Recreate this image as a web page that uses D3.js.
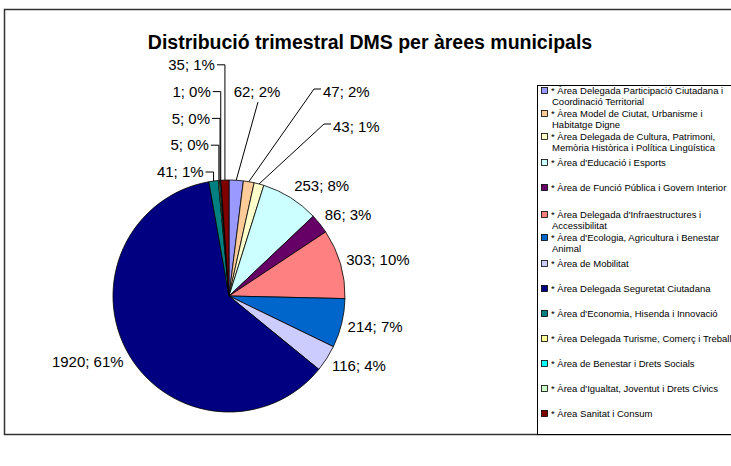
<!DOCTYPE html>
<html>
<head>
<meta charset="utf-8">
<script src="https://cdn.jsdelivr.net/npm/d3@7"></script>
<style>
  body { margin: 0; background: #fff; }
  text { font-family: "Liberation Sans", Arial, sans-serif; }
</style>
</head>
<body>
<div id="chart"></div>
<script>
// categories (legend lines as shown in the original)
var categories = [
    ["* Àrea Delegada Participació Ciutadana i", "Coordinació Territorial"],
    ["* Àrea Model de Ciutat, Urbanisme i", "Habitatge Digne"],
    ["* Àrea Delegada de Cultura, Patrimoni,", "Memòria Històrica i Política Lingüística"],
    ["* Àrea d'Educació i Esports"],
    ["* Àrea de Funció Pública i Govern Interior"],
    ["* Àrea Delegada d'Infraestructures i", "Accessibilitat"],
    ["* Àrea d'Ecologia, Agricultura i Benestar", "Animal"],
    ["* Àrea de Mobilitat"],
    ["* Àrea Delegada Seguretat Ciutadana"],
    ["* Àrea d'Economia, Hisenda i Innovació"],
    ["* Àrea Delegada Turisme, Comerç i Treball"],
    ["* Àrea de Benestar i Drets Socials"],
    ["* Àrea d'Igualtat, Joventut i Drets Cívics"],
    ["* Àrea Sanitat i Consum"]
];
var values = [62, 47, 43, 253, 86, 303, 214, 116, 1920, 41, 5, 5, 1, 35];
var colors = ["#9999FF", "#FFCC99", "#FFFFCC", "#CCFFFF", "#660066", "#FF8080", "#0066CC",
              "#CCCCFF", "#000080", "#008080", "#FFFF99", "#00FFFF", "#CCFFCC", "#800000"];
var title = "Distribució trimestral DMS per àrees municipals";

var width = 731, height = 466;
var cx = 229, cy = 296, radius = 116;

var svg = d3.select("#chart").append("svg")
    .attr("width", width)
    .attr("height", height);

// chart frame
svg.append("rect")
    .attr("x", 4.5).attr("y", 9.5)
    .attr("width", width + 10).attr("height", 425)
    .attr("fill", "none")
    .attr("stroke", "#333")
    .attr("stroke-width", 1.5);

svg.append("text")
    .attr("x", 370).attr("y", 49)
    .attr("text-anchor", "middle")
    .attr("font-size", 19.5)
    .attr("font-weight", "bold")
    .text(title);

var total = d3.sum(values);
var pie = d3.pie().sort(null).value(function(d) { return d; });
var arcs = pie(values);
var arc = d3.arc().innerRadius(0).outerRadius(radius);

var g = svg.append("g").attr("transform", "translate(" + cx + "," + cy + ")");

g.selectAll("path")
    .data(arcs)
    .enter()
    .append("path")
    .attr("d", arc)
    .attr("fill", function(d, i) { return colors[i]; })
    .attr("stroke", "#000")
    .attr("stroke-width", 0.8);

function labelText(v) {
    return v + "; " + Math.round(v / total * 100) + "%";
}

// point on the rim in the middle of the slice
function rimPoint(d, r) {
    var a = (d.startAngle + d.endAngle) / 2;
    return [Math.sin(a) * r, -Math.cos(a) * r];
}

// small slices at the top get leader lines
var leftLeader = [9, 10, 11, 12, 13];   // stacked upwards from Economia to Sanitat
var rightLeader = {
    0: { x: 28, y: -204, anchor: "middle", stub: 0 },
    1: { x: 94, y: -204, anchor: "start", stub: 7 },
    2: { x: 104, y: -169, anchor: "start", stub: 7 }
};

var labels = g.append("g").attr("font-size", 15).attr("fill", "#000");
var leaders = g.append("g").attr("fill", "none").attr("stroke", "#000").attr("stroke-width", 1);

arcs.forEach(function(d, i) {
    var txt = labelText(values[i]);
    var li = leftLeader.indexOf(i);
    if (li >= 0) {
        var p = rimPoint(d, radius);
        var ly = -radius - 8 - li * 26.8;
        labels.append("text")
            .attr("x", p[0] - 10).attr("y", ly)
            .attr("dy", "0.35em")
            .attr("text-anchor", "end")
            .text(txt);
        leaders.append("polyline")
            .attr("points", [[p[0] - 8, ly], [p[0], ly], [p[0], p[1]]].join(" "));
    } else if (rightLeader[i]) {
        var o = rightLeader[i];
        var q = rimPoint(d, radius);
        labels.append("text")
            .attr("x", o.x).attr("y", o.y)
            .attr("dy", "0.35em")
            .attr("text-anchor", o.anchor)
            .text(txt);
        if (o.anchor === "middle") {
            leaders.append("polyline")
                .attr("points", [[o.x + 1, o.y + 10], [q[0], q[1]]].join(" "));
        } else {
            leaders.append("polyline")
                .attr("points", [[o.x - 2, o.y - 3], [o.x - 2 - o.stub, o.y - 3], [q[0], q[1]]].join(" "));
        }
    } else {
        var a = (d.startAngle + d.endAngle) / 2;
        var pt = rimPoint(d, radius + 5);
        labels.append("text")
            .attr("x", pt[0] + (Math.sin(a) >= 0 ? 1 : -1))
            .attr("y", pt[1] - Math.cos(a) * 9)
            .attr("dy", "0.35em")
            .attr("text-anchor", Math.sin(a) >= 0 ? "start" : "end")
            .text(txt);
    }
});

// legend
var legend = svg.append("g");
legend.append("rect")
    .attr("x", 537.5).attr("y", 85.5)
    .attr("width", 220).attr("height", 349)
    .attr("fill", "#fff")
    .attr("stroke", "#000")
    .attr("stroke-width", 1);

var ly = 91;
categories.forEach(function(lines, i) {
    if (i > 0) {
        var prev = categories[i - 1].length, cur = lines.length;
        if (prev === 2 && cur === 2) ly += 23;
        else if (prev === 1 && cur === 1) ly += 25;
        else if (prev === 2) ly += 26;
        else ly += 27;
    }
    legend.append("rect")
        .attr("x", 541.5).attr("y", ly - 3.5)
        .attr("width", 6).attr("height", 6)
        .attr("fill", colors[i])
        .attr("stroke", "#000")
        .attr("stroke-width", 0.8);
    lines.forEach(function(line, k) {
        legend.append("text")
            .attr("x", k === 0 ? 551 : 552)
            .attr("y", ly + k * 11)
            .attr("dy", "0.35em")
            .attr("font-size", 9.5)
            .text(line);
    });
});
</script>
</body>
</html>
